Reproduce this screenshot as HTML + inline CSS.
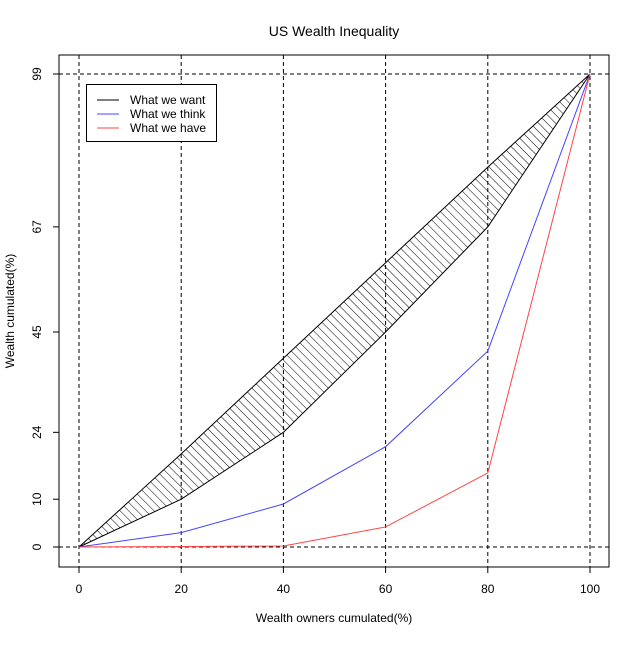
<!DOCTYPE html>
<html><head><meta charset="utf-8"><style>body{margin:0;background:#fff}text{font-family:"Liberation Sans",sans-serif}</style></head>
<body>
<svg id="chart" width="640" height="640" viewBox="0 0 640 640">
<defs><pattern id="hatch" patternUnits="userSpaceOnUse" width="6" height="6" patternTransform="rotate(45)"><line x1="0" y1="0" x2="6" y2="0" stroke="#000" stroke-width="1"/></pattern></defs>
<rect x="0" y="0" width="640" height="640" fill="#fff"/>
<text x="334" y="36" font-size="14" text-anchor="middle">US Wealth Inequality</text>
<g id="grid"></g>
<g id="marks"></g>
<rect x="59" y="55" width="550" height="512" fill="none" stroke="#000"/>
<g id="axes"></g>
<text x="334" y="622" font-size="12" text-anchor="middle">Wealth owners cumulated(%)</text>
<text transform="translate(14,311) rotate(-90)" font-size="12" text-anchor="middle">Wealth cumulated(%)</text>
<g>
<rect x="86.5" y="84.5" width="130" height="57" fill="#fff" stroke="#000"/>
<line x1="97" x2="119" y1="100" y2="100" stroke="#000"/><text x="130" y="104" font-size="12">What we want</text>
<line x1="97" x2="119" y1="114" y2="114" stroke="#44f"/><text x="130" y="118" font-size="12">What we think</text>
<line x1="97" x2="119" y1="128" y2="128" stroke="#f44"/><text x="130" y="132" font-size="12">What we have</text>
</g>
</svg>
<script>
const xCats=[0,20,40,60,80,100];
const wantUpper=[0,19.5,39.5,59.5,79.5,99];
const wantLower=[0,10,24,45,67,99];
const thinkVals=[0,3,9,21,41,99];
const haveVals=[0,0.1,0.2,4.2,15.5,99];
const xTicks=[0,20,40,60,80,100];
const yTicks=[0,10,24,45,67,99];
const NS="http://www.w3.org/2000/svg";
const X=v=>79+v*5.11, Y=v=>547-v*4.778;
function mk(t,a,p){const e=document.createElementNS(NS,t);for(const k in a)e.setAttribute(k,a[k]);p.appendChild(e);return e;}
const grid=document.getElementById('grid'),marks=document.getElementById('marks'),axes=document.getElementById('axes');
xTicks.forEach(v=>{const l=mk('line',{x1:X(v),x2:X(v),y1:55,y2:567,stroke:'#000','stroke-dasharray':'4,3'},grid);

});
[0,99].forEach(v=>{const l=mk('line',{x1:59,x2:609,y1:Y(v),y2:Y(v),stroke:'#000','stroke-dasharray':'4,3'},grid);

});
const up=xCats.map((c,i)=>X(c)+','+Y(wantUpper[i]));
const lo=xCats.map((c,i)=>X(c)+','+Y(wantLower[i])).reverse();
const poly=mk('polygon',{points:up.concat(lo).join(' '),fill:'url(#hatch)',stroke:'#000'},marks);


function line(vals,col,name){const p=mk('polyline',{points:xCats.map((c,i)=>X(c)+','+Y(vals[i])).join(' '),fill:'none',stroke:col},marks);

}
line(thinkVals,'#44f','what-we-think-line');
line(haveVals,'#f44','what-we-have-line');
xTicks.forEach(v=>{mk('line',{x1:X(v),x2:X(v),y1:567,y2:573,stroke:'#000'},axes);
const t=mk('text',{x:X(v),y:593,'font-size':12,'text-anchor':'middle'},axes);t.textContent=v;

});
yTicks.forEach(v=>{mk('line',{x1:53,x2:59,y1:Y(v),y2:Y(v),stroke:'#000'},axes);
const t=mk('text',{transform:`translate(41,${Y(v)}) rotate(-90)`,'font-size':12,'text-anchor':'middle'},axes);t.textContent=v;

});
</script>
</body></html>
